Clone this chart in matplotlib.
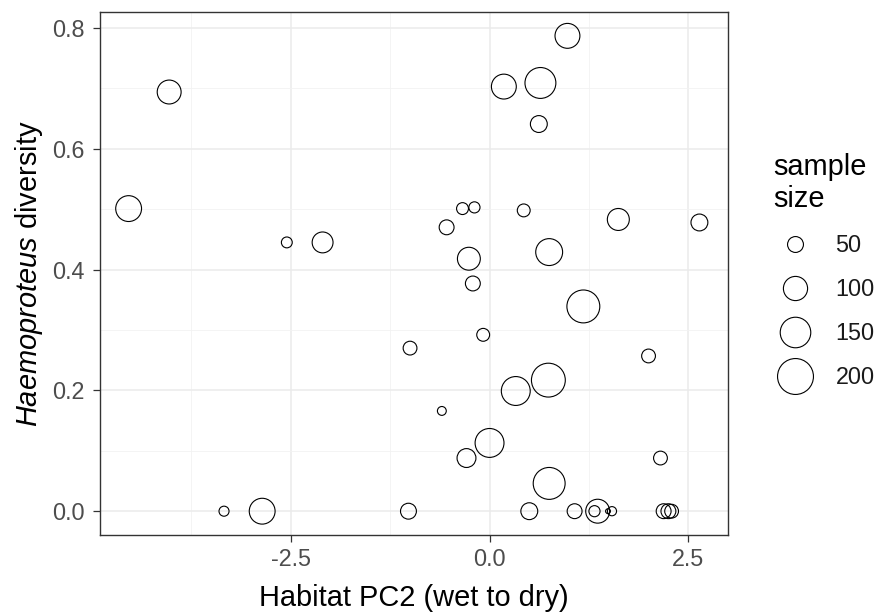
import numpy as np
import matplotlib
matplotlib.use("Agg")
import matplotlib.pyplot as plt
import matplotlib.lines as mlines
from matplotlib.ticker import MultipleLocator

plt.rcParams.update({
    "font.family": ["Liberation Sans", "DejaVu Sans"],
    "mathtext.fontset": "custom",
    "mathtext.rm": "Liberation Sans",
    "mathtext.it": "Liberation Sans:italic",
})

# habitat PC2 score, Haemoproteus diversity and sample size per site
pc2 = [0.98, -4.03, 0.18, 0.64, 0.62, -4.54, -2.55, -2.10, -0.34, -0.19,
       -0.54, 0.43, 1.62, 2.64, -0.26, 0.75, -0.21, 1.18, -0.08, -1.00,
       2.00, 0.74, 0.33, -0.60, 0.00, -0.29, 2.15, 0.75, -3.34, -2.86,
       -1.02, 0.50, 1.07, 1.32, 1.36, 1.49, 1.54, 2.19, 2.25, 2.29]
diversity = [0.787, 0.694, 0.703, 0.709, 0.641, 0.501, 0.445, 0.445, 0.501, 0.503,
             0.470, 0.498, 0.483, 0.478, 0.418, 0.429, 0.377, 0.339, 0.292, 0.270,
             0.257, 0.217, 0.199, 0.166, 0.113, 0.088, 0.088, 0.046, 0.0, 0.0,
             0.0, 0.0, 0.0, 0.0, 0.0, 0.0, 0.0, 0.0, 0.0, 0.0]
sample_size = [105, 98, 105, 153, 55, 112, 28, 78, 32, 29,
               45, 36, 85, 55, 91, 120, 45, 171, 36, 40,
               40, 180, 136, 21, 136, 66, 40, 162, 25, 112,
               50, 55, 45, 29, 98, 10, 22, 45, 45, 40]

legend_sizes = [50, 100, 150, 200]

DPI = 100
EDGE_LW = 0.8  # pt


def marker_pt(n):
    # outer diameter in pixels grows with sqrt(sample size)
    d_px = 2.83 * np.sqrt(np.asarray(n, dtype=float)) - 3
    return (d_px - EDGE_LW * DPI / 72) * 72 / DPI


fig = plt.figure(figsize=(8.78, 6.15), dpi=DPI)
ax = fig.add_axes([0.1139, 0.130, 0.7153, 0.8505])

ax.scatter(pc2, diversity, s=marker_pt(sample_size) ** 2,
           facecolors="none", edgecolors="black", linewidths=EDGE_LW, zorder=3)

ax.set_xlim(-4.90, 3.0)
ax.set_ylim(-0.0395, 0.8265)
ax.xaxis.set_major_locator(MultipleLocator(2.5))
ax.xaxis.set_minor_locator(MultipleLocator(1.25))
ax.yaxis.set_major_locator(MultipleLocator(0.2))
ax.yaxis.set_minor_locator(MultipleLocator(0.1))
ax.xaxis.set_major_formatter(lambda v, p: f"{v:.1f}")
ax.yaxis.set_major_formatter(lambda v, p: f"{v:.1f}")

ax.grid(which="major", color="#EBEBEB", lw=1.1, zorder=0)
ax.grid(which="minor", color="#F2F2F2", lw=0.6, zorder=0)
ax.set_axisbelow(True)
for sp in ax.spines.values():
    sp.set_color("#333333")
    sp.set_linewidth(1.0)

ax.tick_params(which="major", length=5, width=0.9, color="#333333",
               labelsize=16.8, labelcolor="#4D4D4D", pad=4)
ax.tick_params(axis="y", which="major", pad=6)
ax.tick_params(which="minor", length=0)

ax.set_xlabel("Habitat PC2 (wet to dry)", fontsize=20.9, labelpad=9.5)
ax.set_ylabel(r"$\mathit{Haemoproteus}$ diversity", fontsize=20.9, labelpad=5)

handles = [mlines.Line2D([], [], ls="none", marker="o", markerfacecolor="none",
                         markeredgecolor="black", markeredgewidth=EDGE_LW,
                         markersize=float(marker_pt(n)), label=str(n))
           for n in legend_sizes]
leg = fig.legend(handles=handles, title="sample\nsize", loc="upper left",
                 bbox_to_anchor=(0.8804, 0.7517), frameon=False,
                 fontsize=16.8, title_fontsize=20.9, labelspacing=0.9,
                 handlelength=1.9, handletextpad=0.78, borderpad=0.0,
                 borderaxespad=0.0, alignment="left")
for t in leg.get_texts():
    t.set_color("#1A1A1A")

fig.patch.set_facecolor("white")
fig.savefig("out.png", dpi=DPI, facecolor="white")
